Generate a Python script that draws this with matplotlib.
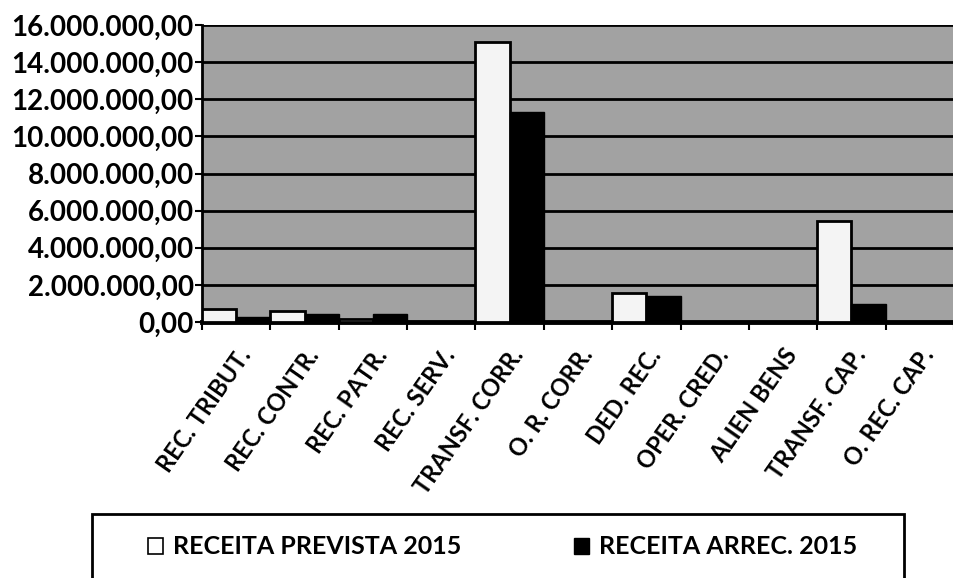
"""
Receita prevista x arrecadada 2015 - grouped bars, Excel-like look
"""

import matplotlib
matplotlib.use('Agg')
import matplotlib.pyplot as plt
from matplotlib.patches import Patch, Rectangle
from matplotlib.ticker import FuncFormatter, FixedLocator

# Data
categorias = ['REC. TRIBUT.', 'REC. CONTR.', 'REC. PATR.', 'REC. SERV.',
              'TRANSF. CORR.', 'O. R. CORR.', 'DED. REC.', 'OPER. CRED.',
              'ALIEN BENS', 'TRANSF. CAP.', 'O. REC. CAP.']
receita_prevista = [680000, 590000, 180000, 0, 15070000, 0,
                    1550000, 0, 0, 5440000, 0]
receita_arrecadada = [290000, 410000, 420000, 0, 11300000, 0,
                      1400000, 0, 0, 970000, 0]
serie_labels = ['RECEITA PREVISTA 2015', 'RECEITA ARREC. 2015']
y_ticks = [0, 2e6, 4e6, 6e6, 8e6, 10e6, 12e6, 14e6, 16e6]

FONT = 'Lato'


def fmt_br(v, pos=None):
    s = f"{v:,.2f}"
    return s.replace(',', 'X').replace('.', ',').replace('X', '.')


plt.rcParams['hatch.color'] = '#6a6a6a'
plt.rcParams['hatch.linewidth'] = 0.8

fig = plt.figure(figsize=(9.54, 5.78), dpi=100)
ax = fig.add_axes([202 / 954, 1 - 322 / 578, 1 - 202 / 954, (322 - 25) / 578])

# gray dithered plot area
ax.set_facecolor('#a2a2a2')
ax.patch.set_hatch('....')

x = list(range(len(categorias)))
w = 0.5
ax.bar([i - w / 2 for i in x], receita_prevista, width=w, color='#f4f4f4',
       edgecolor='black', linewidth=2, zorder=3, label=serie_labels[0])
ax.bar([i + w / 2 for i in x], receita_arrecadada, width=w, color='black',
       edgecolor='black', linewidth=1, zorder=3, label=serie_labels[1])

ax.set_ylim(0, 16e6)
ax.set_xlim(-0.5, 10.37)

ax.yaxis.set_major_locator(FixedLocator(y_ticks))
ax.yaxis.set_major_formatter(FuncFormatter(fmt_br))
ax.grid(axis='y', color='black', linewidth=2)
ax.set_axisbelow(True)

# category labels at centers, tick marks at boundaries
ax.set_xticks(x)
ax.set_xticklabels(categorias, rotation=55, ha='right', va='top',
                   rotation_mode='anchor', fontsize=17, fontweight='bold',
                   family=FONT)
ax.tick_params(axis='x', which='major', length=0, pad=16)
ax.set_xticks([i - 0.5 for i in range(len(categorias) + 1)], minor=True)
ax.tick_params(axis='x', which='minor', length=6, width=1.5, direction='out')

for lab in ax.get_yticklabels():
    lab.set_fontsize(20)
    lab.set_fontweight('bold')
    lab.set_family(FONT)
ax.tick_params(axis='y', length=5, width=1.5, direction='out', pad=1)

ax.spines['top'].set_visible(False)
ax.spines['right'].set_visible(False)
ax.spines['left'].set_linewidth(2)
ax.spines['bottom'].set_linewidth(3.5)

# legend box (bottom edge falls outside the figure)
fig.patches.append(Rectangle((92 / 954, -0.02), (904 - 92) / 954,
                             1 - 514 / 578 + 0.02, transform=fig.transFigure,
                             facecolor='white', edgecolor='black',
                             linewidth=2, zorder=1))
handles = [Patch(facecolor='white', edgecolor='black', linewidth=1.2),
           Patch(facecolor='black', edgecolor='black')]
fig.legend(handles, serie_labels, loc='center left',
           bbox_to_anchor=(148 / 954, 1 - 547 / 578), ncol=2, frameon=False,
           prop={'family': FONT, 'weight': 'bold', 'size': 18},
           borderpad=0, borderaxespad=0,
           handlelength=0.6, handleheight=0.6, handletextpad=0.4,
           columnspacing=4.5)

plt.savefig('out.png', dpi=100)
plt.close()
